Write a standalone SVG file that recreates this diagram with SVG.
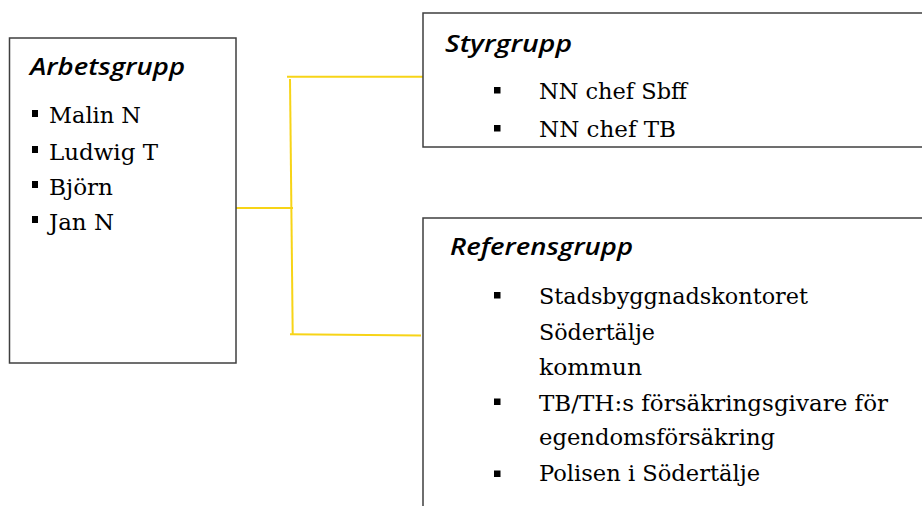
<svg xmlns="http://www.w3.org/2000/svg" width="922" height="506" viewBox="0 0 922 506">
<style>
.box{fill:#fff;stroke:#3f3f3f;stroke-width:1.5}
.conn{fill:none;stroke:#f7d417;stroke-width:2}
.title{font-family:"Open Sans","DejaVu Sans",sans-serif;font-style:italic;font-weight:600;font-size:23px;fill:#000}
.item{font-family:"DejaVu Serif","Liberation Serif",serif;font-size:21.5px;fill:#000}
.bul{fill:#000}
</style>
<rect width="922" height="506" fill="#fff"/>
<g id="connectors">
<path class="conn" d="M236 208 H293"/>
<path class="conn" d="M290 79 L292.7 334"/>
<path class="conn" d="M287 76.7 H423"/>
<path class="conn" d="M290 334.3 L421 335.5"/>
</g>
<g id="arbetsgrupp">
<rect class="box" x="9.5" y="38" width="226.5" height="325"/>
<text class="title" x="30" y="75" textLength="155" lengthAdjust="spacingAndGlyphs">Arbetsgrupp</text>
<rect class="bul" x="32" y="110" width="6" height="7"/>
<rect class="bul" x="32" y="146" width="6" height="7"/>
<rect class="bul" x="32" y="181" width="6" height="7"/>
<rect class="bul" x="32" y="216" width="6" height="7"/>
<text class="item" x="49" y="123" textLength="92" lengthAdjust="spacingAndGlyphs">Malin N</text>
<text class="item" x="49" y="160" textLength="109" lengthAdjust="spacingAndGlyphs">Ludwig T</text>
<text class="item" x="49" y="195" textLength="64" lengthAdjust="spacingAndGlyphs">Björn</text>
<text class="item" x="49" y="230" textLength="65" lengthAdjust="spacingAndGlyphs">Jan N</text>
</g>
<g id="styrgrupp">
<rect class="box" x="423" y="13" width="510" height="134"/>
<text class="title" x="445" y="52" textLength="127" lengthAdjust="spacingAndGlyphs">Styrgrupp</text>
<rect class="bul" x="494" y="87" width="6.5" height="6.5"/>
<rect class="bul" x="494" y="125" width="6.5" height="6.5"/>
<text class="item" x="539" y="99" textLength="148" lengthAdjust="spacingAndGlyphs">NN chef Sbff</text>
<text class="item" x="539" y="137" textLength="137" lengthAdjust="spacingAndGlyphs">NN chef TB</text>
</g>
<g id="referensgrupp">
<rect class="box" x="423" y="218" width="510" height="300"/>
<text class="title" x="450" y="255" textLength="183" lengthAdjust="spacingAndGlyphs">Referensgrupp</text>
<rect class="bul" x="494" y="292" width="6.5" height="6.5"/>
<rect class="bul" x="494" y="398.5" width="6.5" height="6.5"/>
<rect class="bul" x="494" y="470.5" width="6.5" height="6.5"/>
<text class="item" x="539" y="304" textLength="269" lengthAdjust="spacingAndGlyphs">Stadsbyggnadskontoret</text>
<text class="item" x="539" y="339.5" textLength="116" lengthAdjust="spacingAndGlyphs">Södertälje</text>
<text class="item" x="539" y="375" textLength="103" lengthAdjust="spacingAndGlyphs">kommun</text>
<text class="item" x="539" y="410.5" textLength="349" lengthAdjust="spacingAndGlyphs">TB/TH:s försäkringsgivare för</text>
<text class="item" x="539" y="445" textLength="236" lengthAdjust="spacingAndGlyphs">egendomsförsäkring</text>
<text class="item" x="539" y="481" textLength="221" lengthAdjust="spacingAndGlyphs">Polisen i Södertälje</text>
</g>
</svg>
